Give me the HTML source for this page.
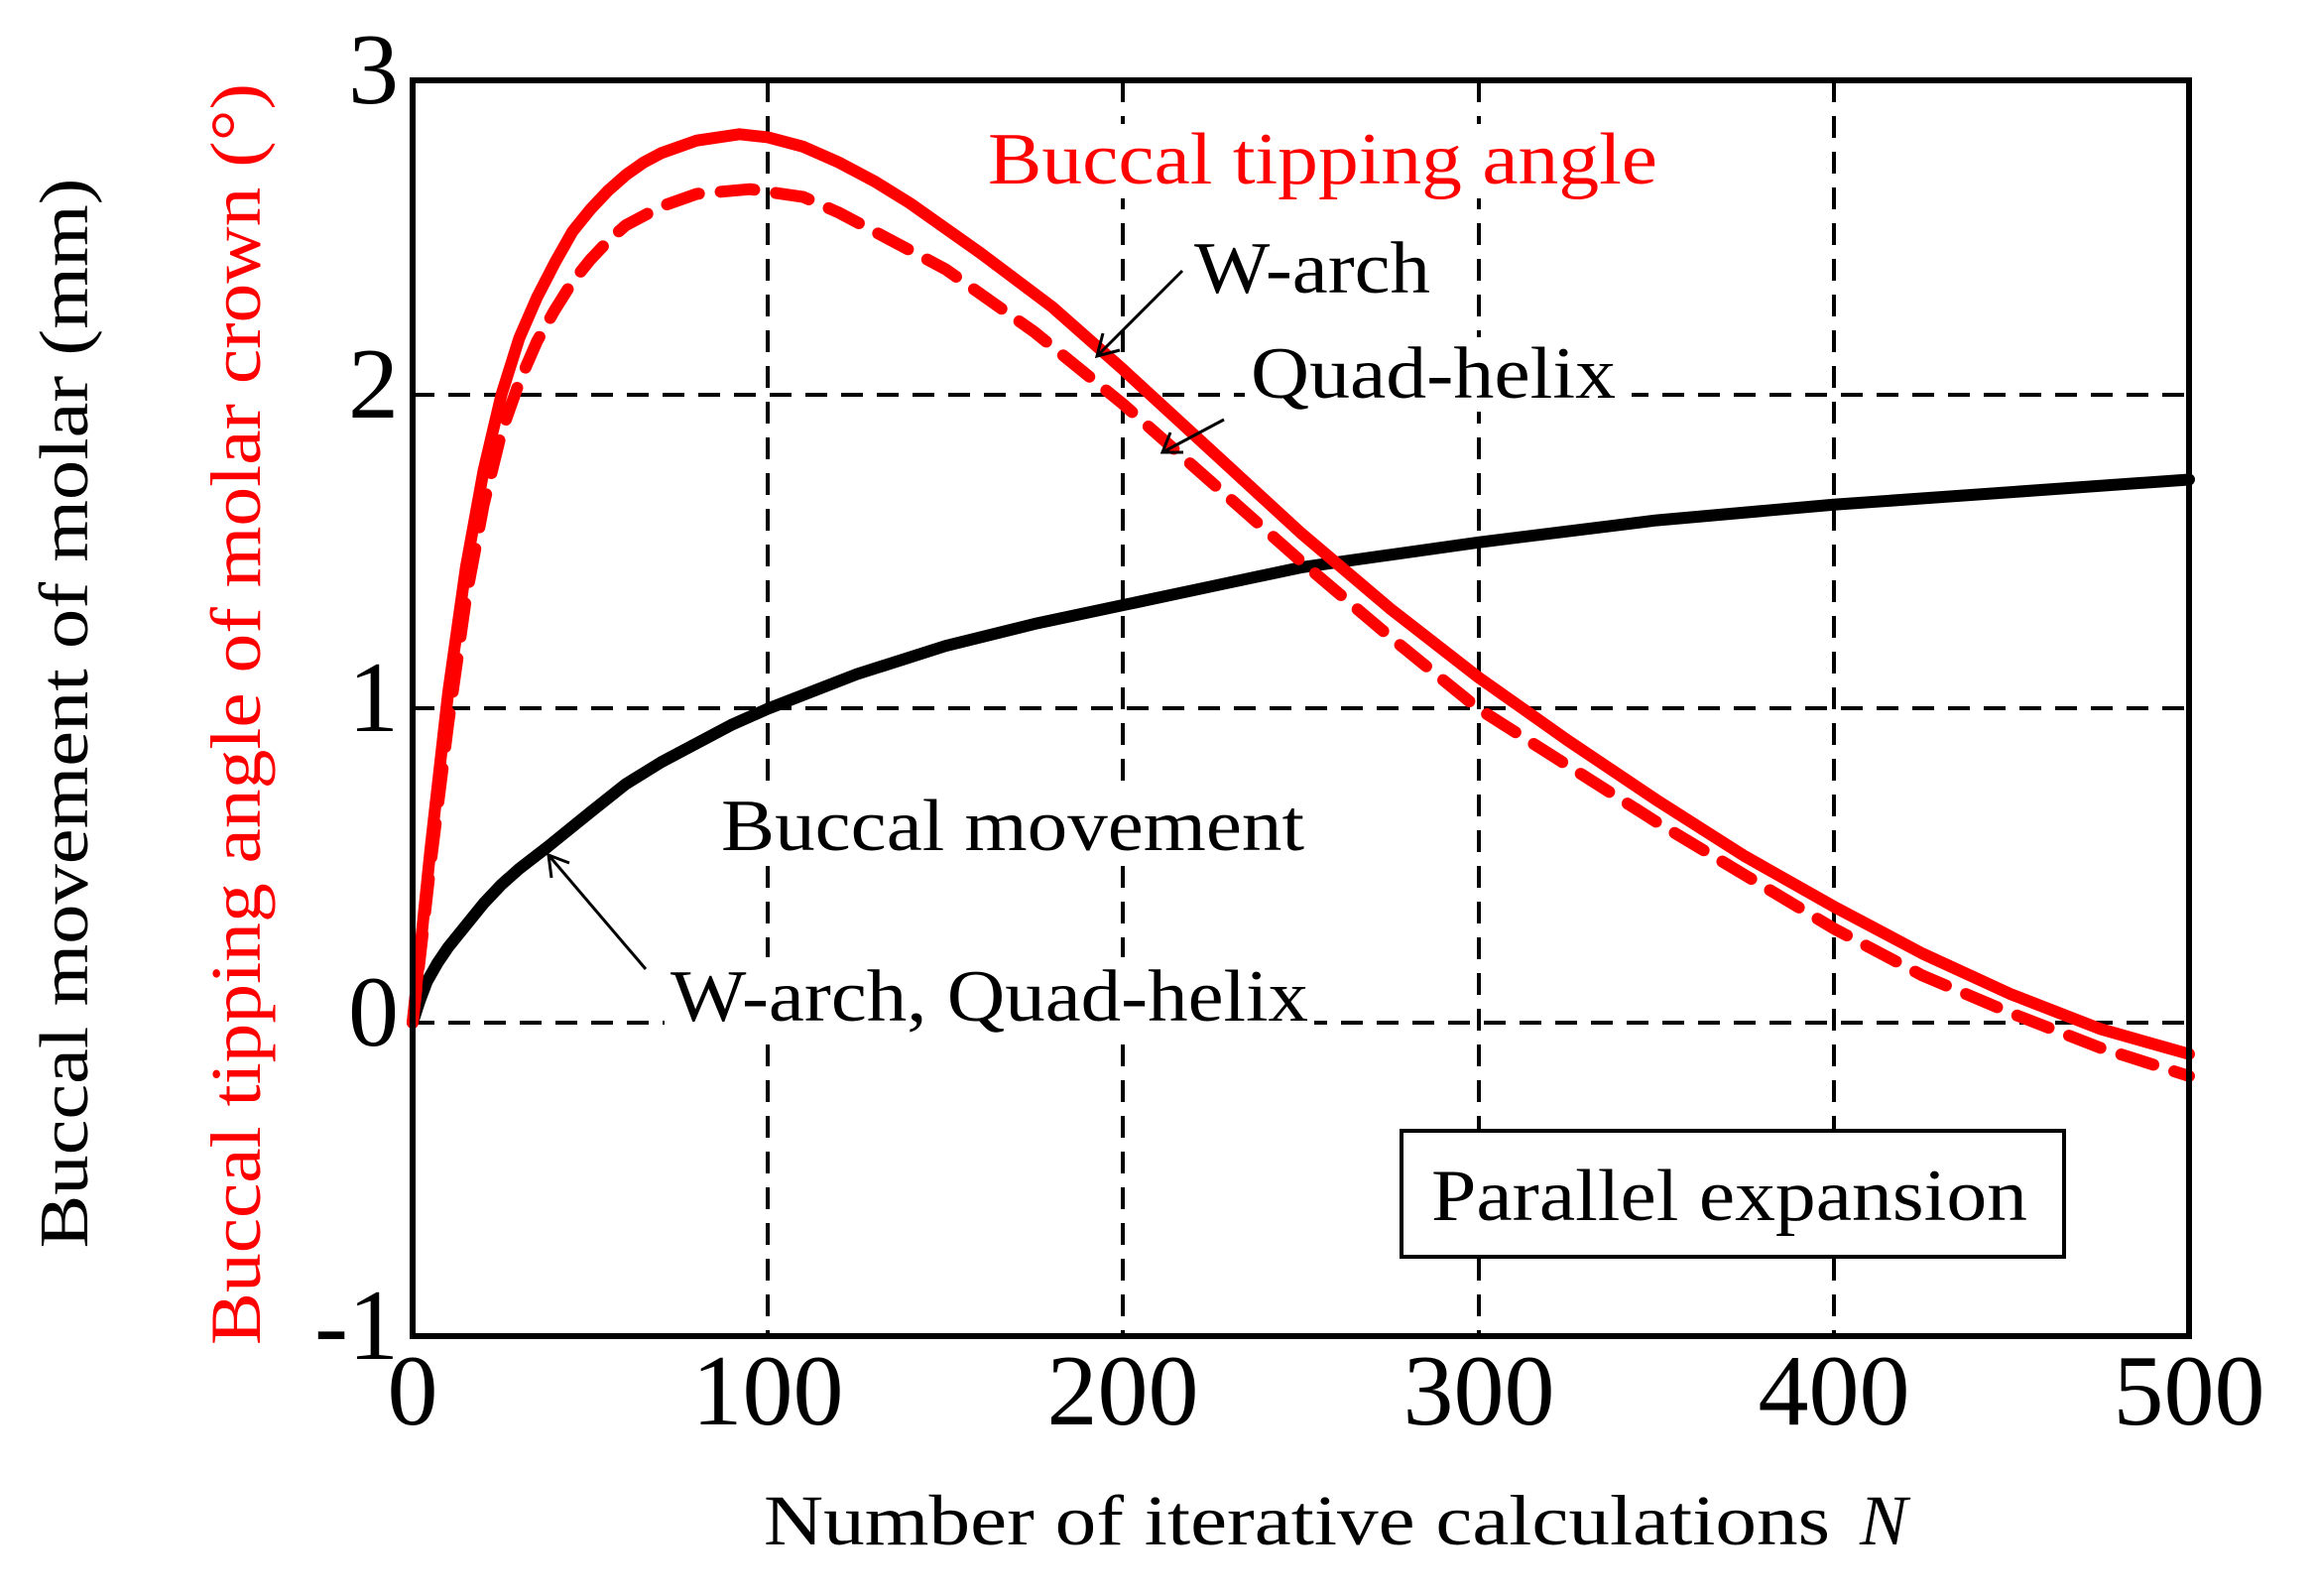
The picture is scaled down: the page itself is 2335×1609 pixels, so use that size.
<!DOCTYPE html>
<html><head><meta charset="utf-8"><style>
html,body{margin:0;padding:0;background:#fff;}
svg{display:block;}
text{font-family:"Liberation Serif",serif;}
</style></head><body>
<svg width="2335" height="1609" viewBox="0 0 2335 1609" xmlns="http://www.w3.org/2000/svg">
<rect width="2335" height="1609" fill="#fff"/>
<g stroke="#000" stroke-width="4" stroke-dasharray="22,14" fill="none">
<line x1="774" y1="81" x2="774" y2="1347"/>
<line x1="1132" y1="81" x2="1132" y2="1347"/>
<line x1="1491" y1="81" x2="1491" y2="1347"/>
<line x1="1849" y1="81" x2="1849" y2="1347"/>
<line x1="416" y1="398" x2="2207" y2="398"/>
<line x1="416" y1="714" x2="2207" y2="714"/>
<line x1="416" y1="1031" x2="2207" y2="1031"/>
</g>
<g fill="#fff">
<rect x="720" y="790" width="600" height="80"/>
<rect x="670" y="965" width="655" height="80"/>
<rect x="1200" y="235" width="250" height="75"/>
<rect x="1255" y="340" width="390" height="75"/>
<rect x="990" y="125" width="690" height="75"/>
</g>
<g transform="translate(416,1031) scale(3.582,-316.5)" fill="none" stroke-linejoin="round" stroke-linecap="round">
<polyline vector-effect="non-scaling-stroke" stroke="#000" stroke-width="12" points="0,0 2,0.07 4,0.13 7,0.19 10,0.24 15,0.31 20,0.38 25,0.44 30,0.49 38,0.56 50,0.67 60,0.76 70,0.83 80,0.89 90,0.95 100,1.0 125,1.11 150,1.2 175,1.27 200,1.33 225,1.39 250,1.45 275,1.49 300,1.53 350,1.6 400,1.65 450,1.69 500,1.73"/>
<polyline vector-effect="non-scaling-stroke" stroke="#ff0000" stroke-width="12" points="0,0 5,0.55 10,1.05 15,1.45 20,1.76 25,2.0 30,2.18 35,2.31 40,2.42 45,2.52 50,2.59 55,2.65 60,2.7 65,2.74 70,2.77 80,2.81 92,2.83 100,2.82 110,2.79 120,2.74 130,2.68 140,2.61 160,2.45 180,2.28 200,2.08 225,1.82 250,1.56 275,1.32 300,1.1 325,0.9 350,0.71 375,0.53 400,0.37 425,0.22 450,0.09 475,-0.02 500,-0.1"/>
<polyline vector-effect="non-scaling-stroke" stroke="#ff0000" stroke-width="12" stroke-dasharray="34,22" points="0,0 5,0.5 10,0.95 15,1.35 20,1.65 25,1.88 30,2.04 35,2.17 40,2.27 45,2.36 50,2.43 55,2.49 60,2.54 70,2.6 80,2.64 95,2.655 110,2.63 120,2.58 130,2.52 150,2.4 175,2.2 200,1.97 225,1.72 250,1.47 275,1.23 300,1.0 325,0.82 350,0.64 375,0.47 400,0.3 425,0.15 450,0.03 475,-0.08 500,-0.17"/>
</g>
<rect x="416" y="81" width="1791" height="1266" fill="none" stroke="#000" stroke-width="6"/>
<g font-size="102" text-anchor="middle">
<text x="416" y="1436">0</text>
<text x="774" y="1436">100</text>
<text x="1132" y="1436">200</text>
<text x="1491" y="1436">300</text>
<text x="1849" y="1436">400</text>
<text x="2207" y="1436">500</text>
</g>
<g font-size="102" text-anchor="end">
<text x="402" y="104">3</text>
<text x="402" y="421">2</text>
<text x="402" y="737">1</text>
<text x="402" y="1054">0</text>
<text x="402" y="1370">-1</text>
</g>
<text x="770" y="1557" font-size="72" textLength="1075" lengthAdjust="spacingAndGlyphs">Number of iterative calculations</text>
<text x="1875" y="1557" font-size="72" font-style="italic">N</text>
<text transform="translate(88,719) rotate(-90)" font-size="70" text-anchor="middle" textLength="1079" lengthAdjust="spacingAndGlyphs">Buccal movement of molar (mm)</text>
<text transform="translate(262,720) rotate(-90)" font-size="72" fill="#ff0000" text-anchor="middle" textLength="1272" lengthAdjust="spacingAndGlyphs">Buccal tipping angle of molar crown (°)</text>
<text x="996" y="185" font-size="74" fill="#ff0000" textLength="675" lengthAdjust="spacingAndGlyphs">Buccal tipping angle</text>
<text x="1204" y="295" font-size="74" textLength="238" lengthAdjust="spacingAndGlyphs">W-arch</text>
<text x="1261" y="401" font-size="74" textLength="368" lengthAdjust="spacingAndGlyphs">Quad-helix</text>
<text x="727" y="857" font-size="74" textLength="588" lengthAdjust="spacingAndGlyphs">Buccal movement</text>
<text x="676" y="1029" font-size="74" textLength="643" lengthAdjust="spacingAndGlyphs">W-arch, Quad-helix</text>
<rect x="1413" y="1140" width="668" height="127" fill="#fff" stroke="#000" stroke-width="4"/>
<text x="1443" y="1230" font-size="74" textLength="601" lengthAdjust="spacingAndGlyphs">Parallel expansion</text>
<g stroke="#000" stroke-width="3" fill="none">
<line x1="1192" y1="273" x2="1106" y2="359"/>
<polyline points="1112,336 1106,359 1129,353"/>
<line x1="1234" y1="423" x2="1172" y2="456"/>
<polyline points="1180,436 1172,456 1193,456"/>
<line x1="651" y1="977" x2="553" y2="862"/>
<polyline points="556,885 553,862 574,870"/>
</g>
</svg>
</body></html>
